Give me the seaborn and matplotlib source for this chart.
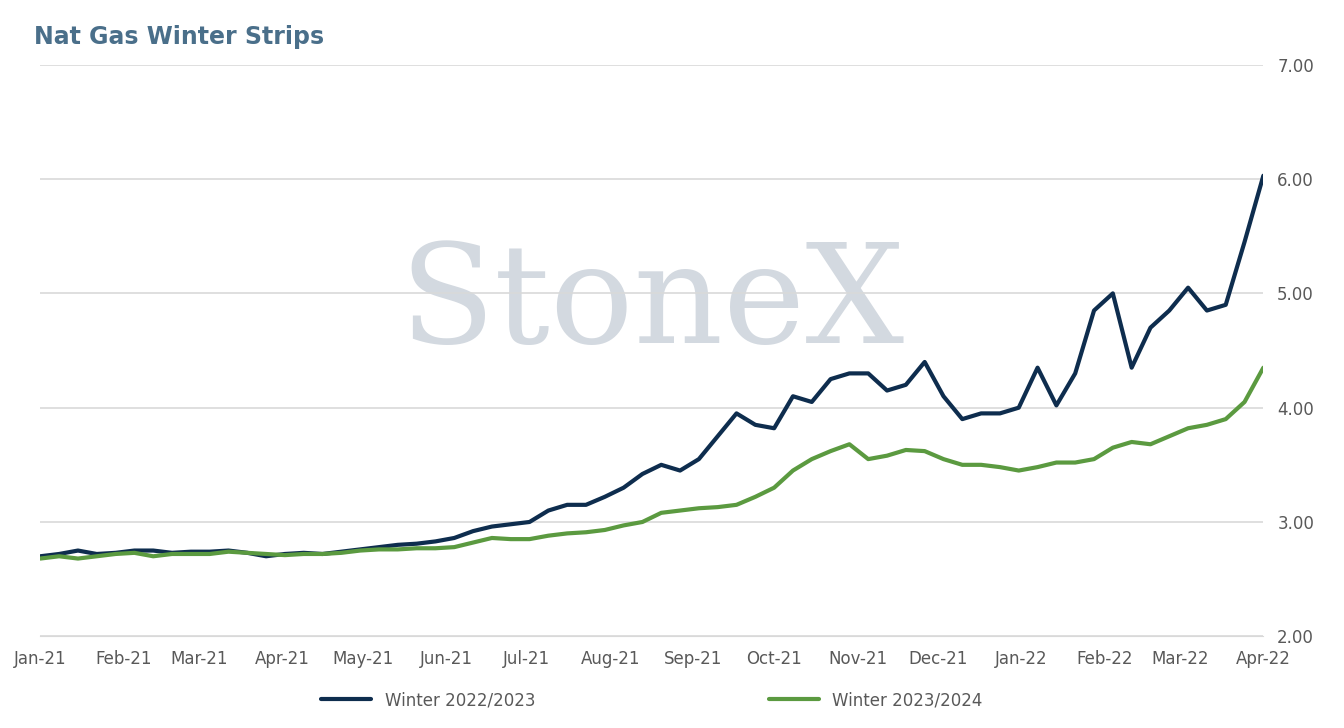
import matplotlib
matplotlib.use("Agg")
import matplotlib.pyplot as plt
import matplotlib.dates as mdates
import seaborn as sns
import pandas as pd

dates = pd.date_range("2021-01-01", "2022-04-01", freq="W-FRI")
winter_22_23 = [2.70,2.72,2.75,2.72,2.73, 2.75,2.75,2.73,2.74, 2.74,2.75,2.73,2.70,
                2.72,2.73,2.72,2.74,2.76, 2.78,2.80,2.81,2.83, 2.86,2.92,2.96,2.98,
                3.00,3.10,3.15,3.15,3.22, 3.30,3.42,3.50,3.45, 3.55,3.75,3.95,3.85,
                3.82,4.10,4.05,4.25,4.30, 4.30,4.15,4.20,4.40, 4.10,3.90,3.95,3.95,4.00,
                4.35,4.02,4.30,4.85, 5.00,4.35,4.70,4.85, 5.05,4.85,4.90,5.45, 6.03]
winter_23_24 = [2.68,2.70,2.68,2.70,2.72, 2.73,2.70,2.72,2.72, 2.72,2.74,2.73,2.72,
                2.71,2.72,2.72,2.73,2.75, 2.76,2.76,2.77,2.77, 2.78,2.82,2.86,2.85,
                2.85,2.88,2.90,2.91,2.93, 2.97,3.00,3.08,3.10, 3.12,3.13,3.15,3.22,
                3.30,3.45,3.55,3.62,3.68, 3.55,3.58,3.63,3.62, 3.55,3.50,3.50,3.48,3.45,
                3.48,3.52,3.52,3.55, 3.65,3.70,3.68,3.75, 3.82,3.85,3.90,4.05, 4.35]
df = pd.DataFrame({"date": dates, "Winter 2022/2023": winter_22_23,
                   "Winter 2023/2024": winter_23_24}).melt("date", var_name="series", value_name="price")

sns.set_style("white")
fig = plt.figure(figsize=(13.44, 7.28), dpi=100)
ax = fig.add_axes([0.03, 0.126, 0.91, 0.785])
sns.lineplot(data=df, x="date", y="price", hue="series", ax=ax,
             palette=["#0e2d4e", "#5b9a40"], linewidth=3)
ax.set_ylim(2, 7)
ax.set_xlim(pd.Timestamp("2021-01-01"), pd.Timestamp("2022-04-01"))
ax.yaxis.tick_right()
ax.set_yticks([2, 3, 4, 5, 6, 7])
ax.set_yticklabels([f"{v:.2f}" for v in [2, 3, 4, 5, 6, 7]])
ax.xaxis.set_major_locator(mdates.MonthLocator())
ax.xaxis.set_major_formatter(mdates.DateFormatter("%b-%y"))
ax.tick_params(colors="#595959", labelsize=12, length=0, pad=10)
ax.grid(axis="y", color="#d9d9d9", linewidth=1.2)
for s in ["top", "right", "left"]:
    ax.spines[s].set_visible(False)
ax.spines["bottom"].set_color("#d9d9d9")
ax.set_xlabel(""); ax.set_ylabel("")
ax.text(0.5, 0.58, "StoneX", transform=ax.transAxes, ha="center", va="center",
        fontsize=100, family="DejaVu Serif", color="#d3d9e0", zorder=0)
ax.legend(loc="upper center", bbox_to_anchor=(0.5, -0.07), ncol=2, frameon=False,
          fontsize=12, handlelength=3, columnspacing=14, labelcolor="#595959")
fig.text(0.025, 0.94, "Nat Gas Winter Strips", fontsize=17, fontweight="bold", color="#4a6f8a")
fig.savefig("out.png", dpi=100)
